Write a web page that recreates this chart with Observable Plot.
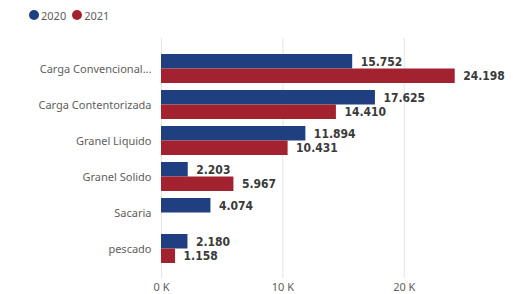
<!DOCTYPE html>
<html>
<head>
<meta charset="utf-8">
<script src="https://cdn.jsdelivr.net/npm/d3@7"></script>
<script src="https://cdn.jsdelivr.net/npm/@observablehq/plot@0.6"></script>
<style>
  html, body { margin: 0; padding: 0; background: #fff; width: 513px; height: 294px; overflow: hidden; position: relative; }
  #legend { position: absolute; left: 0; top: 0; height: 30px; display: flex; align-items: center; padding-left: 29px; font-family: "Noto Sans", sans-serif; font-size: 11px; color: #605e5c; z-index: 2; }
  #legend .item { display: flex; align-items: center; margin-right: 6px; }
  #legend .dot { width: 10px; height: 10px; border-radius: 50%; margin-right: 2px; }
  svg { display: block; }
</style>
</head>
<body>
<div id="legend"></div>
<div id="chart"></div>
<script>
const categories = ["Carga Convencional...", "Carga Contentorizada", "Granel Liquido", "Granel Solido", "Sacaria", "pescado"];
const years = ["2020", "2021"];
const values2020 = [15752, 17625, 11894, 2203, 4074, 2180];
const values2021 = [24198, 14410, 10431, 5967, null, 1158];
const xTicks = [0, 10000, 20000];
const colors = ["#203f80", "#a3222f"];

const fmt = v => d3.format(",")(v).replace(/,/g, ".");

const d2020 = categories.map((c, i) => ({category: c, value: values2020[i]})).filter(d => d.value != null);
const d2021 = categories.map((c, i) => ({category: c, value: values2021[i]})).filter(d => d.value != null);

const legend = document.getElementById("legend");
years.forEach((y, i) => {
  const it = document.createElement("div");
  it.className = "item";
  it.innerHTML = `<span class="dot" style="background:${colors[i]}"></span><span>${y}</span>`;
  legend.appendChild(it);
});

const half = 14.5;
const labelStyle = {fontFamily: "'DejaVu Sans Condensed', sans-serif", fontSize: 12, fontWeight: "bold", fill: "#3a3a3a", textAnchor: "start", dx: 8};

const chart = Plot.plot({
  width: 513,
  height: 294,
  marginLeft: 161,
  marginRight: 0,
  marginTop: 38,
  marginBottom: 16,
  style: {fontFamily: "'Noto Sans', sans-serif", fontSize: "11px", color: "#605e5c", background: "#fff"},
  x: {domain: [0, 29000], ticks: xTicks, tickFormat: d => `${d / 1000} K`, tickSize: 0, tickPadding: 5, label: null, grid: false},
  y: {domain: categories, paddingInner: 0.2, paddingOuter: 0.415, tickSize: 0, tickPadding: 10, label: null},
  marks: [
    Plot.ruleX(xTicks, {stroke: "#e6e6e6", strokeWidth: 1}),
    Plot.barX(d2020, {y: "category", x: "value", fill: colors[0], insetBottom: half}),
    Plot.barX(d2021, {y: "category", x: "value", fill: colors[1], insetTop: half}),
    Plot.text(d2020, {y: "category", x: "value", text: d => fmt(d.value), dy: -7, ...labelStyle}),
    Plot.text(d2021, {y: "category", x: "value", text: d => fmt(d.value), dy: 7, ...labelStyle})
  ]
});
document.getElementById("chart").appendChild(chart);
</script>
</body>
</html>
